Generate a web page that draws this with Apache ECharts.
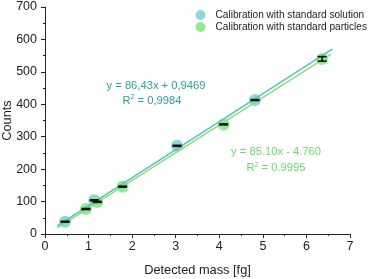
<!DOCTYPE html>
<html><head><meta charset="utf-8">
<script src="https://cdn.jsdelivr.net/npm/echarts@6/dist/echarts.min.js"></script>
<style>html,body{margin:0;padding:0;background:#fff}#c{width:378px;height:279px}</style>
</head><body><div id="c"></div>
<script>
// Calibration with standard solution: [mass, counts, error]
const solutionPts = [[0.46, 38, 1.5], [1.13, 104, 1.5], [3.03, 272, 1.5], [4.82, 413, 1.5]];
// Calibration with standard particles
const particlePts = [[0.94, 77, 1.5], [1.20, 99, 1.5], [1.78, 146, 1.5], [4.10, 338, 1.5], [6.36, 540, 7]];
// Fit line endpoints
const solutionFit = [[0.28, 25], [6.60, 571]];
const particleFit = [[0.28, 19], [6.56, 554]];
const xTicks = [0, 1, 2, 3, 4, 5, 6, 7];
const yTicks = [0, 100, 200, 300, 400, 500, 600, 700];
const legendNames = ['Calibration with standard solution', 'Calibration with standard particles'];
const eqSolution = ['y = 86,43x + 0,9469', 'R{sup|2} = 0,9984'];
const eqParticles = ['y = 85.10x - 4.760', 'R{sup|2} = 0.9995'];

const cSol = '#7fd4d4', cSolLine = '#5cbcbc', cSolText = '#2b9e9a';
const cPar = '#86e886', cParLine = '#7ee07e', cParText = '#66dd66';
const font = "'Liberation Sans', Arial, sans-serif";

function errRender(params, api) {
  const x = api.value(0), y = api.value(1), e = api.value(2);
  const top = api.coord([x, y + e]), bot = api.coord([x, y - e]);
  const hw = 4.5;
  const st = {stroke: '#111', lineWidth: 1.6};
  return {type: 'group', children: [
    {type: 'line', shape: {x1: top[0], y1: top[1], x2: bot[0], y2: bot[1]}, style: st},
    {type: 'line', shape: {x1: top[0] - hw, y1: top[1], x2: top[0] + hw, y2: top[1]}, style: st},
    {type: 'line', shape: {x1: bot[0] - hw, y1: bot[1], x2: bot[0] + hw, y2: bot[1]}, style: st}
  ]};
}

const chart = echarts.init(document.getElementById('c'), null, {renderer: 'canvas'});
chart.setOption({
  animation: false,
  textStyle: {fontFamily: font},
  grid: {left: 45, right: 28, top: 7, bottom: 45, containLabel: false, outerBoundsMode: 'none'},
  legend: {
    orient: 'vertical', right: 6, top: 5, itemGap: 2, icon: 'circle',
    itemWidth: 10, itemHeight: 10,
    textStyle: {fontSize: 10.1, color: '#222', fontFamily: font, padding: [0, 0, 0, 5]},
    data: legendNames
  },
  xAxis: {
    type: 'value', min: 0, max: 7, interval: 1,
    name: 'Detected mass [fg]', nameLocation: 'middle', nameGap: 30, nameMoveOverlap: false,
    nameTextStyle: {fontSize: 12.8, color: '#222'},
    axisLine: {show: true, lineStyle: {color: '#222', width: 1}},
    axisTick: {show: true, length: 4, lineStyle: {color: '#222'}},
    minorTick: {show: true, splitNumber: 2, length: 2, lineStyle: {color: '#222'}},
    axisLabel: {fontSize: 12.5, color: '#222', margin: 6, formatter: v => xTicks.includes(v) ? String(v) : ''},
    splitLine: {show: false}
  },
  yAxis: {
    type: 'value', min: 0, max: 700, interval: 100,
    name: 'Counts', nameLocation: 'middle', nameGap: 31, nameRotate: 90, nameMoveOverlap: false,
    nameTextStyle: {fontSize: 12.8, color: '#222'},
    axisLine: {show: true, lineStyle: {color: '#222', width: 1}},
    axisTick: {show: true, length: 4, lineStyle: {color: '#222'}},
    minorTick: {show: true, splitNumber: 2, length: 2, lineStyle: {color: '#222'}},
    axisLabel: {fontSize: 12.5, color: '#222', margin: 8, formatter: v => yTicks.includes(v) ? String(v) : ''},
    splitLine: {show: false}
  },
  series: [
    {name: legendNames[0], type: 'scatter', data: solutionPts.map(p => [p[0], p[1]]),
     symbolSize: 12, itemStyle: {color: cSol, opacity: 0.9}, z: 2},
    {name: legendNames[1], type: 'scatter', data: particlePts.map(p => [p[0], p[1]]),
     symbolSize: 12, itemStyle: {color: cPar, opacity: 0.9}, z: 2},
    {type: 'line', data: solutionFit, symbol: 'none', lineStyle: {color: cSolLine, width: 1.4}, z: 3, silent: true},
    {type: 'line', data: particleFit, symbol: 'none', lineStyle: {color: cParLine, width: 1.4}, z: 3, silent: true},
    {type: 'custom', data: solutionPts, renderItem: errRender, z: 4, silent: true},
    {type: 'custom', data: particlePts, renderItem: errRender, z: 4, silent: true}
  ],
  graphic: [
    {type: 'text', x: 156, y: 80.5, style: {
      text: eqSolution[0], fill: cSolText, fontSize: 11.2, fontFamily: font, align: 'center'}},
    {type: 'text', x: 152, y: 94, style: {
      text: eqSolution[1], fill: cSolText, fontSize: 11.2, fontFamily: font, align: 'center',
      rich: {sup: {fontSize: 7, verticalAlign: 'top', fill: cSolText, padding: [0, 0, 6, 0]}}}},
    {type: 'text', x: 276, y: 146.5, style: {
      text: eqParticles[0], fill: cParText, fontSize: 11.2, fontFamily: font, align: 'center'}},
    {type: 'text', x: 276, y: 161.5, style: {
      text: eqParticles[1], fill: cParText, fontSize: 11.2, fontFamily: font, align: 'center',
      rich: {sup: {fontSize: 7, verticalAlign: 'top', fill: cParText, padding: [0, 0, 6, 0]}}}}
  ]
});
</script></body></html>
